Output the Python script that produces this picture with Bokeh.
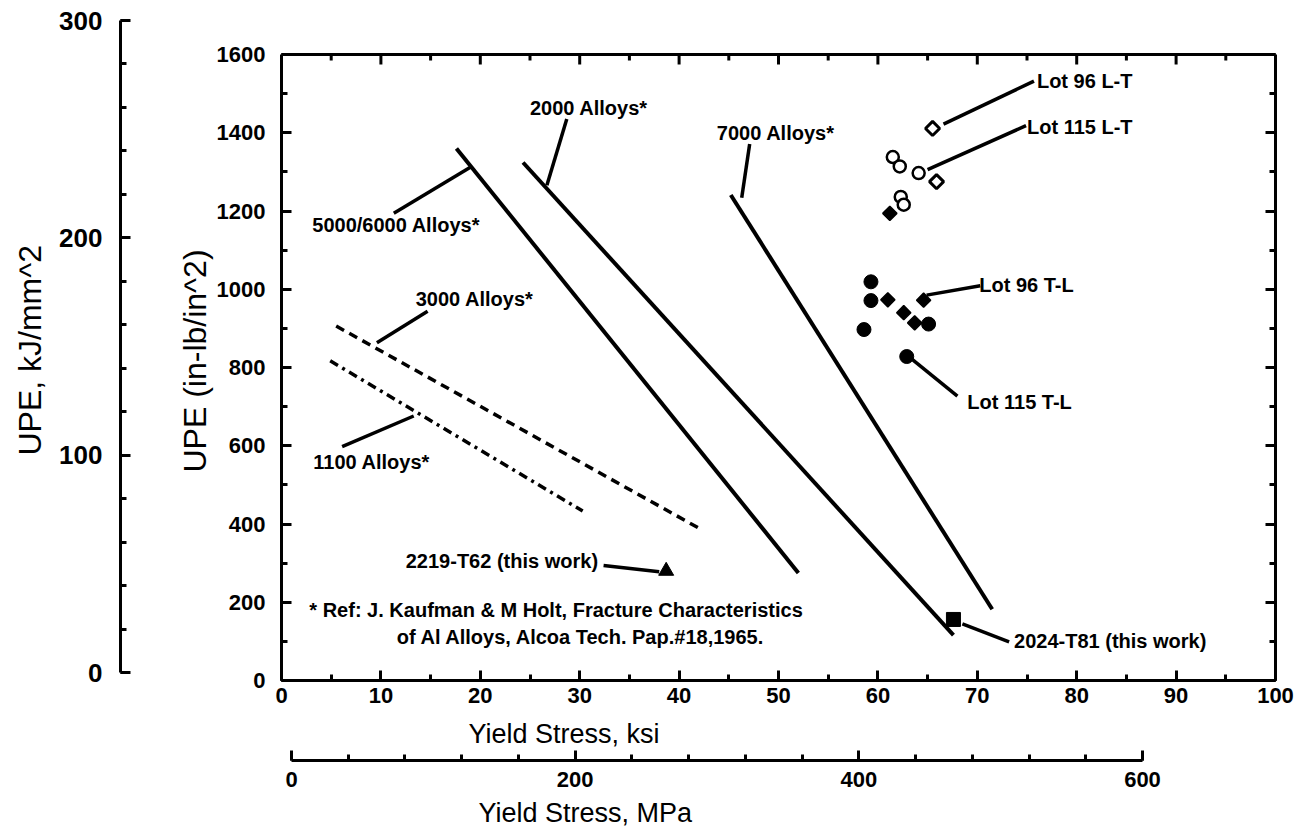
import numpy as np
from bokeh.plotting import figure
from bokeh.models import (LinearAxis, Range1d, SingleIntervalTicker, FixedTicker,
                          Title, Span, CustomJSTickFormatter, ColumnDataSource)
from bokeh.core.properties import value
from bokeh.embed import file_html
from bokeh.resources import INLINE

# ---------------- data ----------------
alloy_5000_6000_ksi = [17.6, 52.0]
alloy_5000_6000_upe = [1360, 275]
alloy_2000_ksi = [24.3, 67.6]
alloy_2000_upe = [1324, 116]
alloy_7000_ksi = [45.2, 71.5]
alloy_7000_upe = [1241, 182]
alloy_3000_ksi = [5.5, 42.3]
alloy_3000_upe = [906, 385]
alloy_1100_ksi = [4.9, 30.3]
alloy_1100_upe = [817, 433]

lot96_lt_ksi = [65.5, 65.9]
lot96_lt_upe = [1411, 1275]
lot115_lt_ksi = [61.5, 62.2, 62.3, 62.6, 64.1]
lot115_lt_upe = [1338, 1314, 1236, 1216, 1297]
lot96_tl_ksi = [61.2, 61.0, 64.6, 62.6, 63.7]
lot96_tl_upe = [1194, 973, 972, 940, 914]
lot115_tl_ksi = [59.3, 59.3, 58.6, 65.1, 62.9]
lot115_tl_upe = [1019, 971, 897, 911, 828]
t62_2219_ksi = [38.7]
t62_2219_upe = [280]
t81_2024_ksi = [67.6]
t81_2024_upe = [156]

label_texts = ["2000 Alloys*", "7000 Alloys*", "5000/6000 Alloys*", "3000 Alloys*",
               "1100 Alloys*", "2219-T62 (this work)", "2024-T81 (this work)",
               "Lot 96 L-T", "Lot 115 L-T", "Lot 96 T-L", "Lot 115 T-L",
               "* Ref: J. Kaufman & M Holt, Fracture Characteristics",
               "of Al Alloys, Alcoa Tech. Pap.#18,1965."]
label_x = [25.0, 43.8, 3.1, 13.5, 3.2, 12.5, 73.7, 76.0, 75.0, 70.2, 69.0, 2.8, 11.6]
label_y = [1462, 1400, 1163, 976, 558, 305, 101, 1531, 1414, 1012, 713, 181, 110]

leader_x0 = [28.7, 11.3, 47.1, 14.7, 6.1, 32.4, 68.5, 66.6, 65.0, 64.9, 63.2]
leader_y0 = [1435, 1194, 1371, 944, 598, 294, 145, 1422, 1306, 985, 826]
leader_x1 = [26.7, 19.0, 46.3, 9.6, 13.3, 38.0, 73.2, 75.7, 74.9, 70.3, 68.0]
leader_y1 = [1266, 1312, 1234, 863, 676, 278, 99, 1532, 1418, 1009, 727]

top_tick_major = [0, 10, 20, 30, 40, 50, 60, 70, 80, 90, 100]
top_tick_minor = [5, 15, 25, 35, 45, 55, 65, 75, 85, 95]

# ---------------- layout geometry ----------------
W, H = 1305, 829
FL, FR, FT, FB = 281, 1275, 13, 680
PX_PER_UPE = 626 / 1600.0
Y_END = (FB - FT) / PX_PER_UPE
KJ_PX = 652 / 300.0
KJ_START = -(FB - 672) / KJ_PX
KJ_END = KJ_START + (FB - FT) / KJ_PX
MPA_PX = (1142 - 291) / 600.0
MPA_START = -(291 - FL) / MPA_PX
MPA_END = MPA_START + (FR - FL) / MPA_PX

FONT = "Liberation Sans"

p = figure(width=W, height=H, x_range=Range1d(0, 100), y_range=Range1d(0, Y_END),
           output_backend="svg", toolbar_location=None,
           min_border_left=FL, min_border_right=W - FR,
           min_border_top=FT, min_border_bottom=H - FB)
p.xgrid.visible = False
p.ygrid.visible = False
p.outline_line_color = None
p.background_fill_color = "white"
p.border_fill_color = "white"
p.extra_y_ranges = {"kj": Range1d(KJ_START, KJ_END)}
p.extra_x_ranges = {"mpa": Range1d(MPA_START, MPA_END)}


def style_axis(ax, label_size="22px"):
    ax.axis_line_width = 3
    ax.axis_line_color = "black"
    ax.major_tick_in = 10
    ax.major_tick_out = 0
    ax.minor_tick_in = 6
    ax.minor_tick_out = 0
    ax.major_tick_line_width = 3
    ax.minor_tick_line_width = 3
    ax.major_tick_line_color = "black"
    ax.minor_tick_line_color = "black"
    ax.major_label_text_font = FONT
    ax.major_label_text_font_size = label_size
    ax.major_label_text_font_style = "bold"
    ax.major_label_text_color = "black"


def spacer(px, side, at=50):
    s = LinearAxis(ticker=FixedTicker(ticks=[at]),
                   formatter=CustomJSTickFormatter(code="return ''"),
                   axis_line_color=None, major_tick_line_color=None,
                   minor_tick_line_color=None, major_tick_in=0, major_tick_out=px,
                   minor_tick_out=0, minor_tick_in=0, major_label_standoff=0,
                   major_label_text_color=None, major_label_text_font_size="0px")
    p.add_layout(s, side)


def title(text, side, offset, size="27px"):
    p.add_layout(Title(text=text, align="left", offset=offset, vertical_align="middle",
                       standoff=0, text_font=FONT, text_font_size=size,
                       text_font_style="normal", text_color="black"), side)


# main bottom axis (ksi)
xa = p.xaxis[0]
xa.ticker = SingleIntervalTicker(interval=10, num_minor_ticks=2)
style_axis(xa)
xa.major_label_standoff = 7

# main left axis (in-lb/in^2)
ya = p.yaxis[0]
ya.ticker = SingleIntervalTicker(interval=200, num_minor_ticks=2)
ya.bounds = (0, 1600)
style_axis(ya)
ya.major_label_standoff = 16

# right border axis
ra = LinearAxis(ticker=SingleIntervalTicker(interval=200, num_minor_ticks=2),
                bounds=(0, 1600), formatter=CustomJSTickFormatter(code="return ''"))
style_axis(ra)
ra.major_label_text_color = None
ra.major_label_standoff = 0
p.add_layout(ra, "right")

# top border
p.add_layout(Span(location=1600, dimension="width", line_width=3, line_color="black"))
tick_major_len = 10 / PX_PER_UPE
tick_minor_len = 6 / PX_PER_UPE
p.segment(x0=top_tick_major, y0=[1600] * len(top_tick_major), x1=top_tick_major,
          y1=[1600 - tick_major_len] * len(top_tick_major), line_width=3, line_color="black")
p.segment(x0=top_tick_minor, y0=[1600] * len(top_tick_minor), x1=top_tick_minor,
          y1=[1600 - tick_minor_len] * len(top_tick_minor), line_width=3, line_color="black")

# bottom stack: gap, ksi title, gap, MPa axis, gap, MPa title
spacer(12, "below")
title("Yield Stress, ksi", "below", 187)
spacer(11, "below")
ma = LinearAxis(x_range_name="mpa", bounds=(0, 600),
                ticker=SingleIntervalTicker(interval=200, num_minor_ticks=5))
style_axis(ma)
ma.major_label_standoff = 11
p.add_layout(ma, "below")
spacer(7, "below")
title("Yield Stress, MPa", "below", 197)

# left stack: in-lb title, gap, kJ axis, gap, kJ title
title("UPE  (in-lb/in^2)", "left", 208, size="32px")
spacer(55, "left", at=800)
ka = LinearAxis(y_range_name="kj", bounds=(0, 300),
                ticker=SingleIntervalTicker(interval=100, num_minor_ticks=5))
style_axis(ka, label_size="26px")
ka.major_label_standoff = 18
p.add_layout(ka, "left")
spacer(8, "left", at=800)
title("UPE, kJ/mm^2", "left", 225, size="32px")

# ---------------- data marks ----------------
p.line(alloy_5000_6000_ksi, alloy_5000_6000_upe, line_width=4, line_color="black")
p.line(alloy_2000_ksi, alloy_2000_upe, line_width=4, line_color="black")
p.line(alloy_7000_ksi, alloy_7000_upe, line_width=4, line_color="black")
p.line(alloy_3000_ksi, alloy_3000_upe, line_width=3.5, line_color="black", line_dash="9 6")
p.line(alloy_1100_ksi, alloy_1100_upe, line_width=3.5, line_color="black", line_dash="9 5 3 5")

p.segment(x0=leader_x0, y0=leader_y0, x1=leader_x1, y1=leader_y1,
          line_width=3.5, line_color="black")

p.scatter(lot115_tl_ksi, lot115_tl_upe, marker="circle", size=14,
          fill_color="black", line_color="black")
p.scatter(lot96_tl_ksi, lot96_tl_upe, marker="square", angle=np.pi / 4, size=10,
          fill_color="black", line_color="black", line_width=1.5)
p.scatter(lot115_lt_ksi, lot115_lt_upe, marker="circle", size=12,
          fill_color="white", line_color="black", line_width=2.5)
p.scatter(lot96_lt_ksi, lot96_lt_upe, marker="square", angle=np.pi / 4, size=10,
          fill_color="white", line_color="black", line_width=3)
p.scatter(t62_2219_ksi, t62_2219_upe, marker="triangle", size=15,
          fill_color="black", line_color="black")
p.scatter(t81_2024_ksi, t81_2024_upe, marker="square", size=14,
          fill_color="black", line_color="black")

src = ColumnDataSource(dict(x=label_x, y=label_y, text=label_texts))
p.text(x="x", y="y", text="text", source=src, text_font=value(FONT),
       text_font_size="20px", text_font_style="bold", text_color="black",
       text_align="left", text_baseline="middle")

open("out.html", "w").write(file_html(p, INLINE))
